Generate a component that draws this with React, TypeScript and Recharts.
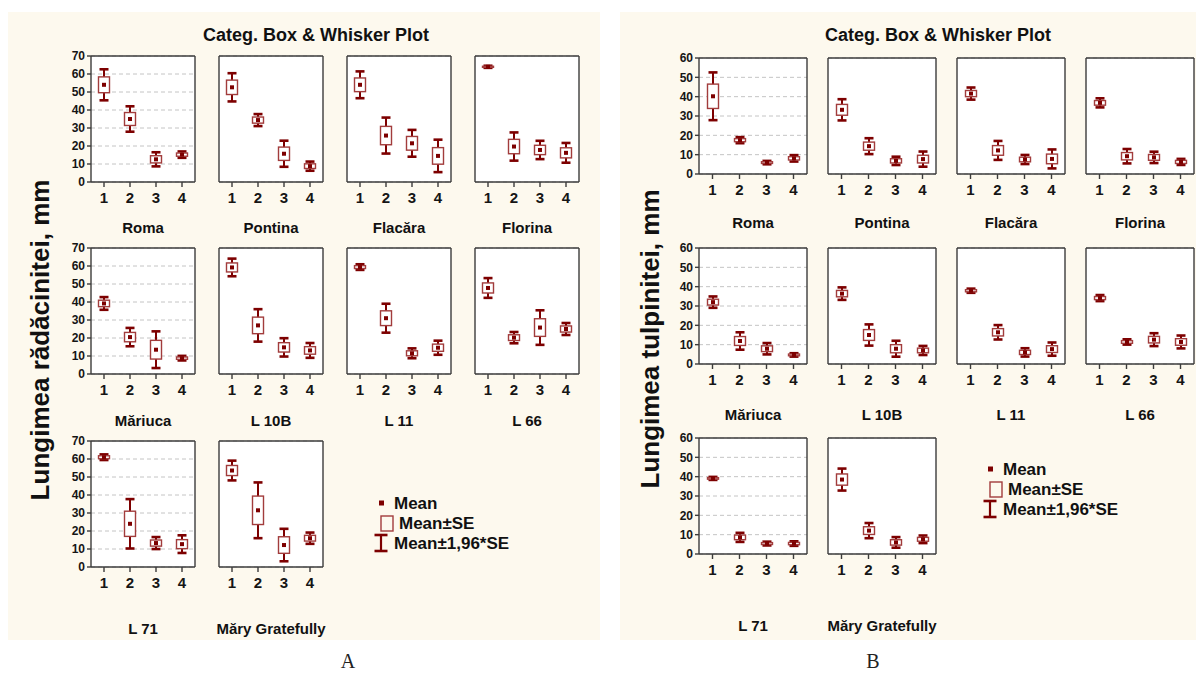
import { ComposedChart, Bar, XAxis, YAxis, CartesianGrid } from "recharts";

const categories = ["1", "2", "3", "4"];
const varieties = [
  "Roma", "Pontina", "Flacăra", "Florina",
  "Măriuca", "L 10B", "L 11", "L 66",
  "L 71", "Măry Gratefully",
];

const rootTicks = [0, 10, 20, 30, 40, 50, 60, 70];
const stemTicks = [0, 10, 20, 30, 40, 50, 60];

// A: root length, mean and SE per variety (categories 1..4)
const rootMean = [
  [54, 35, 12.6, 15.2],
  [52.6, 34.4, 15.7, 8.8],
  [54, 25.8, 21.5, 14.5],
  [64, 19.7, 17.8, 16.2],
  [39.2, 20.5, 13.5, 8.8],
  [59.2, 27, 14.8, 13.1],
  [59.4, 31, 11.5, 14.6],
  [47.8, 20.2, 25.8, 25],
  [61, 24, 13.3, 12.7],
  [53.6, 31.5, 12.2, 16],
];
const rootSE = [
  [4.4, 3.6, 2.0, 0.9],
  [4.0, 1.7, 3.7, 1.3],
  [3.8, 5.1, 3.8, 4.6],
  [0.3, 4.0, 2.6, 2.8],
  [1.8, 2.6, 5.2, 0.65],
  [2.5, 4.6, 2.6, 2.1],
  [0.8, 4.1, 1.4, 2.0],
  [2.8, 1.6, 4.9, 1.7],
  [0.8, 7.0, 1.7, 2.5],
  [2.8, 7.9, 4.6, 1.6],
];

// B: stem length
const stemMean = [
  [40.2, 17.5, 5.9, 8.1],
  [33.2, 14.4, 6.8, 7.7],
  [41.6, 12.2, 7.5, 7.8],
  [36.8, 9.2, 8.6, 6.25],
  [32, 11.9, 7.9, 4.7],
  [36.4, 15, 7.9, 7],
  [37.9, 16.4, 6, 7.7],
  [34.1, 11.4, 12.6, 11.4],
  [39.1, 8.6, 5.4, 5.4],
  [38.5, 12.1, 6, 7.6],
];
const stemSE = [
  [6.3, 0.8, 0.45, 0.85],
  [2.8, 2.1, 1.1, 2.0],
  [1.6, 2.5, 1.2, 2.5],
  [1.2, 1.9, 1.5, 0.8],
  [1.5, 2.3, 1.5, 0.45],
  [1.65, 2.8, 2.1, 1.2],
  [0.55, 1.9, 1.1, 1.75],
  [0.8, 0.7, 1.7, 1.7],
  [0.4, 1.2, 0.5, 0.6],
  [2.9, 2.0, 1.4, 1.0],
];

const legendLabels = ["Mean", "Mean±SE", "Mean±1,96*SE"];

const DARK = "#7d0000";
const BOXC = "#a23c3c";
const AXIS = "#3c3c3c";
const CREAM = "#fdf9ee";
const FONT = "'Liberation Sans', Arial, sans-serif";

const AXW = 36;
const RW = 6;
const TH = 6;
const BH = 30;

function toRows(means: number[], ses: number[]) {
  return categories.map((cat, i) => {
    const m = means[i];
    const s = ses[i];
    return {
      cat,
      mean: m,
      box: [m - s, m + s],
      whisk: [m - 1.96 * s, m + 1.96 * s],
    };
  });
}

function BoxShape(props: any) {
  const { x, y, width, height, payload } = props;
  if (!payload) return null;
  const top = Math.min(y, y + height);
  const h = Math.abs(height);
  const [lo, hi] = payload.whisk;
  const k = h / (hi - lo);
  const cx = x + width / 2;
  const yOf = (v: number) => top + (hi - v) * k;
  const bTop = yOf(payload.box[1]);
  const bBot = yOf(payload.box[0]);
  const yM = yOf(payload.mean);
  return (
    <g>
      <line x1={cx} x2={cx} y1={top} y2={top + h} stroke={DARK} strokeWidth={2} />
      <line x1={cx - 4.5} x2={cx + 4.5} y1={top} y2={top} stroke={DARK} strokeWidth={2.6} />
      <line x1={cx - 4.5} x2={cx + 4.5} y1={top + h} y2={top + h} stroke={DARK} strokeWidth={2.6} />
      <rect x={cx - 5.5} y={bTop} width={11} height={Math.max(bBot - bTop, 0.5)} fill="#fff" stroke={BOXC} strokeWidth={1.4} />
      <rect x={cx - 2} y={yM - 2} width={4} height={4} fill={DARK} />
    </g>
  );
}

type SmallProps = {
  left: number;
  top: number;
  w: number;
  h: number;
  ticks: number[];
  showY: boolean;
  rows: any[];
};

function SmallPlot({ left, top, w, h, ticks, showY, rows }: SmallProps) {
  const max = ticks[ticks.length - 1];
  const axisStyle = { stroke: AXIS, strokeWidth: 1.4 };
  return (
    <div style={{ position: "absolute", left: left - AXW, top: top - TH }}>
      <ComposedChart
        width={AXW + w + RW}
        height={TH + h + BH}
        data={rows}
        margin={{ top: 0, right: 0, bottom: 0, left: 0 }}
      >
        <CartesianGrid
          vertical={false}
          fill="#ffffff"
          stroke="#c4c4c4"
          strokeDasharray="4 3"
        />
        <XAxis
          dataKey="cat"
          height={BH}
          axisLine={axisStyle}
          tickLine={axisStyle}
          tickSize={5}
          tickMargin={5}
          tick={{ fontSize: 15, fontWeight: 700, fill: "#151515" }}
        />
        <XAxis
          xAxisId="top"
          dataKey="cat"
          orientation="top"
          height={TH}
          axisLine={axisStyle}
          tickLine={axisStyle}
          tickSize={4}
          tick={false}
        />
        <YAxis
          type="number"
          domain={[0, max]}
          ticks={ticks}
          interval={0}
          width={AXW}
          axisLine={axisStyle}
          tickLine={axisStyle}
          tickSize={4}
          tickMargin={2}
          tick={showY ? { fontSize: 12, fontWeight: 700, fill: "#151515" } : false}
        />
        <YAxis
          yAxisId="r"
          orientation="right"
          type="number"
          domain={[0, max]}
          ticks={ticks}
          interval={0}
          width={RW}
          axisLine={axisStyle}
          tickLine={axisStyle}
          tickSize={4}
          tick={false}
        />
        <Bar
          dataKey="whisk"
          barSize={12}
          isAnimationActive={false}
          shape={(p: any) => <BoxShape {...p} />}
        />
      </ComposedChart>
    </div>
  );
}

type PanelCfg = {
  plotLefts: number[];
  rowTops: number[];
  w: number;
  h: number;
  ticks: number[];
  means: number[][];
  ses: number[][];
};

function Panel({ plotLefts, rowTops, w, h, ticks, means, ses }: PanelCfg) {
  return (
    <>
      {varieties.map((name, i) => {
        const col = i % 4;
        const row = Math.floor(i / 4);
        return (
          <SmallPlot
            key={name + i}
            left={plotLefts[col]}
            top={rowTops[row]}
            w={w}
            h={h}
            ticks={ticks}
            showY={col === 0}
            rows={toRows(means[i], ses[i])}
          />
        );
      })}
    </>
  );
}

function Legend({ dx, dy }: { dx: number; dy: number }) {
  return (
    <g transform={`translate(${dx},${dy})`}>
      <rect x={988} y={466.5} width={5} height={5} fill={DARK} />
      <text x={1003} y={469} dominantBaseline="central" fontSize={17} fontWeight={700} fill="#111">{legendLabels[0]}</text>
      <rect x={990} y={482} width={12} height={15} fill="none" stroke={BOXC} strokeWidth={1.4} />
      <text x={1008} y={489} dominantBaseline="central" fontSize={17} fontWeight={700} fill="#111">{legendLabels[1]}</text>
      <line x1={990} x2={990} y1={501} y2={517} stroke={DARK} strokeWidth={2.2} />
      <line x1={983.5} x2={996.5} y1={501} y2={501} stroke={DARK} strokeWidth={2.6} />
      <line x1={983.5} x2={996.5} y1={517} y2={517} stroke={DARK} strokeWidth={2.6} />
      <text x={1003} y={509} dominantBaseline="central" fontSize={17} fontWeight={700} fill="#111">{legendLabels[2]}</text>
    </g>
  );
}

const leftCols = [91, 219, 347, 475];
const leftRows = [56, 248, 441];
const leftNameY = [227, 420, 628];
const rightCols = [699, 828, 957, 1086];
const rightRows = [58, 248, 438];
const rightNameY = [222, 414, 625];

export default function App() {
  return (
    <div
      style={{
        position: "absolute",
        left: 0,
        top: 0,
        width: 1196,
        height: 675,
        background: "#fff",
        fontFamily: FONT,
        overflow: "hidden",
      }}
    >
      <svg width={1196} height={675} style={{ position: "absolute", left: 0, top: 0 }}>
        <rect x={8} y={12} width={592} height={628} fill={CREAM} />
        <rect x={620} y={12} width={576} height={628} fill={CREAM} />
        <g fontFamily={FONT} fontWeight={700} fill="#111">
          <text x={316} y={35} textAnchor="middle" dominantBaseline="central" fontSize={18}>Categ. Box &amp; Whisker Plot</text>
          <text x={938} y={35} textAnchor="middle" dominantBaseline="central" fontSize={18}>Categ. Box &amp; Whisker Plot</text>
          {varieties.map((n, i) => (
            <text key={"l" + i} x={leftCols[i % 4] + 52} y={leftNameY[Math.floor(i / 4)]} textAnchor="middle" dominantBaseline="central" fontSize={15}>{n}</text>
          ))}
          {varieties.map((n, i) => (
            <text key={"r" + i} x={rightCols[i % 4] + 54} y={rightNameY[Math.floor(i / 4)]} textAnchor="middle" dominantBaseline="central" fontSize={15}>{n}</text>
          ))}
          <text transform="translate(40,340) rotate(-90)" textAnchor="middle" dominantBaseline="central" fontSize={26}>Lungimea rădăcinitei, mm</text>
          <text transform="translate(650,339) rotate(-90)" textAnchor="middle" dominantBaseline="central" fontSize={26}>Lungimea tulpinitei, mm</text>
        </g>
        <g fontFamily={FONT}>
          <Legend dx={-609} dy={34} />
          <Legend dx={0} dy={0} />
        </g>
        <text x={348} y={661} textAnchor="middle" dominantBaseline="central" fontSize={20} fontFamily="'Liberation Serif', 'Times New Roman', serif" fill="#222">A</text>
        <text x={873} y={661} textAnchor="middle" dominantBaseline="central" fontSize={20} fontFamily="'Liberation Serif', 'Times New Roman', serif" fill="#222">B</text>
      </svg>
      <Panel plotLefts={leftCols} rowTops={leftRows} w={104} h={126} ticks={rootTicks} means={rootMean} ses={rootSE} />
      <Panel plotLefts={rightCols} rowTops={rightRows} w={108} h={116} ticks={stemTicks} means={stemMean} ses={stemSE} />
    </div>
  );
}
